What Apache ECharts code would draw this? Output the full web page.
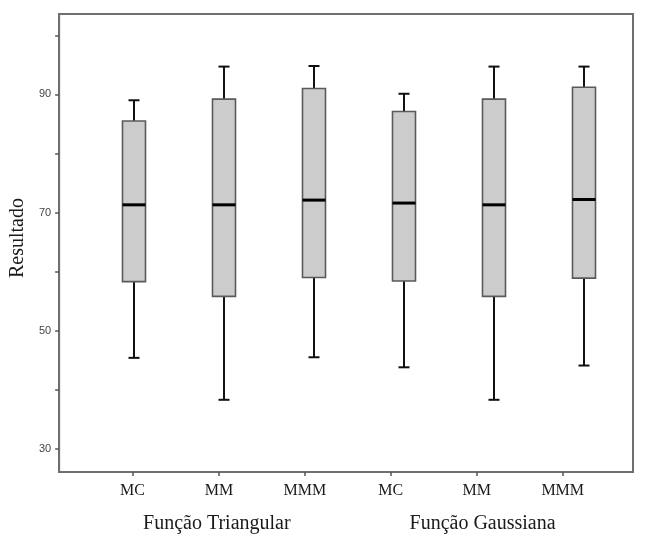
<!DOCTYPE html>
<html>
<head>
<meta charset="utf-8">
<script src="https://cdn.jsdelivr.net/npm/echarts@6/dist/echarts.min.js"></script>
<style>html,body{margin:0;padding:0;background:#fff}#c{width:647px;height:534px}</style>
</head>
<body>
<div id="c"></div>
<script>
const categories = ['MC', 'MM', 'MMM', 'MC', 'MM', 'MMM'];
const groups = ['Função Triangular', 'Função Gaussiana'];
const whiskerLow  = [45.4, 38.3, 45.5, 43.8, 38.3, 44.1];
const q1          = [58.3, 55.8, 59.0, 58.4, 55.8, 58.9];
const median      = [71.3, 71.3, 72.1, 71.6, 71.3, 72.2];
const q3          = [85.5, 89.2, 91.0, 87.1, 89.2, 91.2];
const whiskerHigh = [89.0, 94.7, 94.8, 90.1, 94.7, 94.7];
const yTicks = [30, 40, 50, 60, 70, 80, 90, 100];
const yLabels = [30, 50, 70, 90];

// axis positions of the category labels / group labels (in x-axis units, boxes at 1..6)
const labelPos = [0.981, 1.944, 2.897, 3.852, 4.808, 5.763];
const groupPos = [1.919, 4.872];

const boxData = categories.map((c, i) => [i + 1, whiskerLow[i], q1[i], median[i], q3[i], whiskerHigh[i]]);

function nearestIdx(arr, v) {
  let b = 0;
  for (let i = 1; i < arr.length; i++) if (Math.abs(arr[i] - v) < Math.abs(arr[b] - v)) b = i;
  return b;
}

const chart = echarts.init(document.getElementById('c'), null, {renderer: 'canvas'});
const serif = '"Liberation Serif", "Times New Roman", serif';
const sans = '"Liberation Sans", Arial, sans-serif';

chart.setOption({
  animation: false,
  backgroundColor: '#fff',
  grid: {left: 59, right: 14, top: 14, bottom: 60, show: true, borderColor: '#6f6f6f', borderWidth: 2, backgroundColor: 'transparent'},
  xAxis: [{
    type: 'value', min: 0.1667, max: 6.544,
    splitLine: {show: false},
    axisLine: {show: true, onZero: false, lineStyle: {color: '#6f6f6f', width: 2}},
    axisTick: {show: true, length: 4, customValues: labelPos, lineStyle: {color: '#555', width: 1.5}},
    axisLabel: {customValues: labelPos, margin: 11, color: '#1a1a1a', fontFamily: serif, fontSize: 16,
      formatter: v => categories[nearestIdx(labelPos, v)]}
  }, {
    type: 'value', min: 0.1667, max: 6.544, position: 'bottom',
    splitLine: {show: false}, axisLine: {show: false}, axisTick: {show: false},
    axisLabel: {customValues: groupPos, margin: 42, color: '#1a1a1a', fontFamily: serif, fontSize: 20,
      formatter: v => groups[nearestIdx(groupPos, v)]}
  }],
  yAxis: {
    type: 'value', min: 26.08, max: 103.6,
    name: 'Resultado', nameLocation: 'middle', nameRotate: 90, nameGap: 25,
    nameTextStyle: {fontFamily: serif, fontSize: 20, color: '#1a1a1a', padding: [0, 0, 0, 10]},
    splitLine: {show: false},
    axisLine: {show: true, lineStyle: {color: '#6f6f6f', width: 2}},
    axisTick: {show: true, length: 4, customValues: yTicks, lineStyle: {color: '#555', width: 1.5}},
    axisLabel: {customValues: yLabels, margin: 8, color: '#444', fontFamily: sans, fontSize: 11}
  },
  series: [{
    type: 'custom',
    xAxisIndex: 0,
    data: boxData,
    encode: {x: 0, y: [1, 2, 3, 4, 5]},
    renderItem: function (params, api) {
      const x = api.value(0);
      const pLow = api.coord([x, api.value(1)]);
      const pQ1 = api.coord([x, api.value(2)]);
      const pMed = api.coord([x, api.value(3)]);
      const pQ3 = api.coord([x, api.value(4)]);
      const pHigh = api.coord([x, api.value(5)]);
      const cx = Math.round(pQ1[0]);
      const bw = 23, cap = 11;
      return {
        type: 'group',
        children: [
          {type: 'line', shape: {x1: cx, y1: pHigh[1], x2: cx, y2: pQ3[1]}, style: {stroke: '#111', lineWidth: 2}},
          {type: 'line', shape: {x1: cx, y1: pQ1[1], x2: cx, y2: pLow[1]}, style: {stroke: '#111', lineWidth: 2}},
          {type: 'line', shape: {x1: cx - cap / 2, y1: pHigh[1], x2: cx + cap / 2, y2: pHigh[1]}, style: {stroke: '#111', lineWidth: 2}},
          {type: 'line', shape: {x1: cx - cap / 2, y1: pLow[1], x2: cx + cap / 2, y2: pLow[1]}, style: {stroke: '#111', lineWidth: 2}},
          {type: 'rect', shape: {x: cx - bw / 2, y: pQ3[1], width: bw, height: pQ1[1] - pQ3[1]}, style: {fill: '#cccccc', stroke: '#5a5a5a', lineWidth: 1.6}},
          {type: 'line', shape: {x1: cx - bw / 2, y1: pMed[1], x2: cx + bw / 2, y2: pMed[1]}, style: {stroke: '#000', lineWidth: 3}}
        ]
      };
    }
  }]
});
</script>
</body>
</html>
